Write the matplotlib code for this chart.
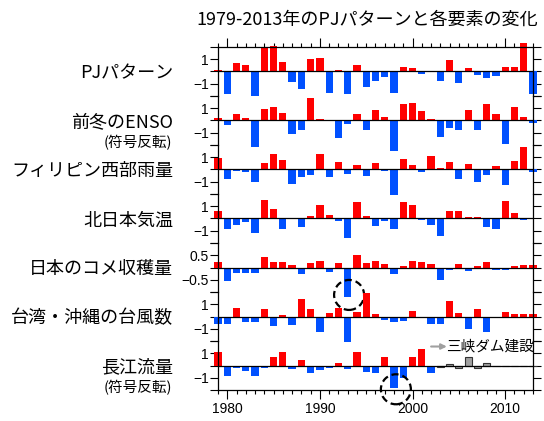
import matplotlib
matplotlib.use("Agg")
import matplotlib.pyplot as plt
from matplotlib.patches import Circle
from matplotlib.transforms import ScaledTranslation
from matplotlib.ticker import MultipleLocator

plt.rcParams['font.family'] = ['Noto Sans CJK JP', 'DejaVu Sans']

years = list(range(1979, 2014))

pj = [0.1, -1.86, 0.7, 0.49, -2.03, 1.97, 2.1, 0.78, -0.86, -1.43, 1.03, 1.14, -1.78, 0.14, -1.84,
      0.54, -1.3, -0.76, -0.46, -1.78, 0.4, 0.3, -0.22, 0.08, -0.81, 0.97, -0.95, 0.3, -0.27,
      -0.57, -0.38, 0.4, 0.4, 2.32, -1.84]
enso = [0.22, -0.38, 0.49, 0.22, -2.2, 0.95, 1.1, 0.65, -1.13, -0.81, 1.81, 0.16, 0.08, -1.43, -0.27,
        0.49, -0.76, 0.84, 0.3, -2.49, 1.38, 1.43, 0.78, 0.16, -1.32, -0.65, -0.76, 0.86, -0.76,
        1.35, 0.49, -1.95, 1.1, 0.27, -0.19]
phil_rain = [0.97, -0.81, -0.12, -0.24, -1.05, 0.51, 1.27, 0.78, -1.19, -0.6, -0.46, 1.24, -0.6, 0.62,
             -0.38, 0.38, -0.51, 0.57, -0.1, -2.08, 0.89, 0.35, -0.22, 1.14, 0.14, 0.65, -0.81, 0.46,
             -1.0, -0.46, 0.3, -1.27, 0.7, 1.84, -0.24]
nj_temp = [0.65, -0.84, -0.57, -0.27, -1.16, 1.54, 0.78, -0.84, -0.08, -0.7, 0.22, 1.14, 0.27, -0.22,
           -1.57, 1.35, 0.19, -0.62, -0.24, -0.84, 1.32, 1.08, -0.14, -0.57, -1.43, 0.65, 0.59, 0.16,
           0.16, -0.68, -0.84, 1.43, 0.41, -0.16, 0.05]
rice = [0.24, -0.54, -0.24, -0.23, -0.23, 0.43, 0.22, 0.22, 0.1, -0.26, 0.2, 0.27, -0.19, 0.2, -1.22,
        0.51, 0.19, 0.27, 0.15, -0.26, 0.07, 0.26, 0.22, 0.16, -0.49, -0.1, 0.16, -0.14, 0.07, 0.22,
        -0.11, -0.11, 0.07, 0.11, 0.12]
typhoon = [-0.65, -0.62, 0.68, -0.46, -0.46, 0.59, -0.76, 0.14, -0.7, 1.46, 0.59, -1.3, 0.27, 0.68,
           -2.05, 0.35, 1.89, 0.24, -0.32, -0.46, -0.35, 0.46, -0.16, -0.59, -0.62, 1.27, 0.27, -1.0,
           0.59, -1.3, -0.14, 0.38, 0.24, 0.24, 0.19]
yangtze = [1.08, -0.86, -0.24, -0.41, -0.86, -0.24, 0.7, 1.08, -0.32, 0.49, -0.59, -0.38, -0.24, 0.22,
           -0.32, 1.08, -0.49, -0.65, 0.7, -1.86, -1.0, 0.7, 1.38, -0.59, -0.14, 0.16, -0.24, 0.68,
           -0.19, 0.22, 0.0, 0.0, 0.0, 0.0, 0.0]

series = [pj, enso, phil_rain, nj_temp, rice, typhoon, yangtze]
labels = ['PJパターン', '前冬のENSO', 'フィリピン西部雨量', '北日本気温', '日本のコメ収穫量',
          '台湾・沖縄の台風数', '長江流量']
sublabels = ['', '(符号反転)', '', '', '', '', '(符号反転)']
tick_unit = [1, 1, 1, 1, 0.5, 1, 1]
dam_year = 2003
title = '1979-2013年のPJパターンと各要素の変化'
dam_label = '三峡ダム建設'

RED = '#ff0000'
BLUE = '#0050ff'

fig = plt.figure(figsize=(5.44, 4.21), dpi=100)
axes = fig.subplots(7, 1, sharex=True, gridspec_kw=dict(hspace=0))
fig.subplots_adjust(left=0.4007, right=0.9798, top=0.8884, bottom=0.0736)

tickfont = 'Liberation Sans'
for i, (ax, vals) in enumerate(zip(axes, series)):
    u = tick_unit[i]
    ax.patch.set_visible(False)
    ax.set_ylim(-2 * u, 2 * u)
    ax.set_xlim(1979, 2013)
    if i == 6:
        cols = [('#a0a0a0' if y >= dam_year else (RED if v > 0 else BLUE)) for y, v in zip(years, vals)]
        edges = [('#333333' if y >= dam_year else 'none') for y in years]
        ax.bar(years, vals, width=0.78, color=cols, edgecolor=edges, linewidth=0.8,
               clip_on=False, zorder=2)
    else:
        cols = [RED if v > 0 else BLUE for v in vals]
        ax.bar(years, vals, width=0.78, color=cols, clip_on=False, zorder=2)
    ax.axhline(0, color='black', lw=0.9, zorder=3)
    yt = [-2 * u, -u, 0, u, 2 * u]
    lab = ['', ('−0.5' if u == 0.5 else '−1'), '', ('0.5' if u == 0.5 else '1'), '']
    ax.set_yticks(yt, lab)
    ax.tick_params(axis='y', which='both', left=True, right=True, direction='out', length=5.5,
                   width=0.8, labelsize=10, labelfontfamily=tickfont, pad=1)
    for s in ['left', 'right', 'top', 'bottom']:
        ax.spines[s].set_linewidth(0.9)
    if i != 0:
        ax.spines['top'].set_visible(False)
    if i != 6:
        ax.spines['bottom'].set_visible(False)
    ax.text(-0.143, 0.46, labels[i], transform=ax.transAxes, ha='right', va='center', fontsize=13)
    if sublabels[i]:
        ax.text(-0.146, 0.05, sublabels[i], transform=ax.transAxes, ha='right', va='center',
                fontsize=10.5)
    ax.xaxis.set_major_locator(MultipleLocator(10))
    ax.xaxis.set_minor_locator(MultipleLocator(1))
    ax.tick_params(axis='x', which='both', top=(i == 0), bottom=(i == 6), labelbottom=(i == 6),
                   labeltop=False, direction='out', width=0.8)
    ax.tick_params(axis='x', which='major', length=6.5, labelsize=10, labelfontfamily=tickfont, pad=2)
    ax.tick_params(axis='x', which='minor', length=3)

# highlight circles
def circ(ax, x, y):
    c = Circle((0, 0), 0.15, transform=fig.dpi_scale_trans + ScaledTranslation(x, y, ax.transData),
               fill=False, edgecolor='black', lw=1.6, ls=(0, (3.2, 1.8)), clip_on=False, zorder=10)
    ax.add_patch(c)

circ(axes[4], 1993.15, rice[years.index(1993)] + 0.1)
circ(axes[6], 1998.2, yangtze[years.index(1998)] - 0.08)

# dam annotation
axd = axes[6]
axd.annotate('', xy=(2003.7, 1.55), xytext=(2002.0, 1.55),
             arrowprops=dict(arrowstyle='-|>', color='#a0a0a0', lw=1.5, mutation_scale=8,
                             shrinkA=0, shrinkB=0), annotation_clip=False)
axd.text(2003.65, 1.55, dam_label, ha='left', va='center', fontsize=10.5)

fig.text(0.674, 0.952, title, ha='center', va='center', fontsize=13)

fig.savefig('out.png', dpi=100)
